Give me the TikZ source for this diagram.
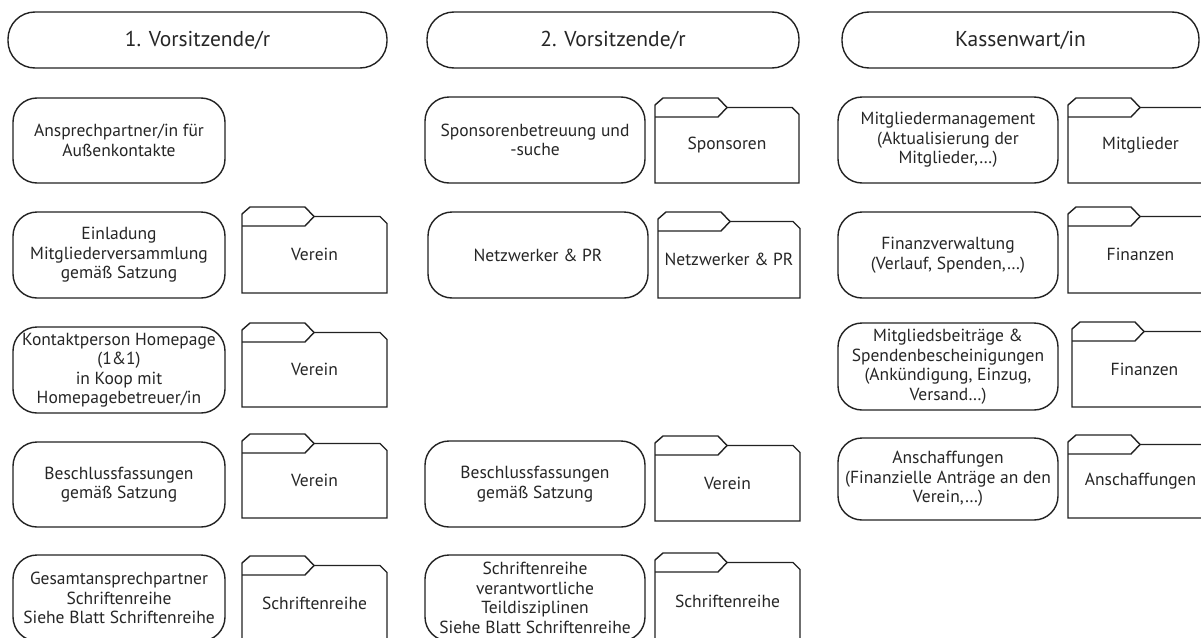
\documentclass[tikz,border=0pt]{standalone}
\usepackage{fontspec}
\setmainfont{PT Sans}
\definecolor{ink}{HTML}{222222}
\definecolor{txt}{HTML}{262626}
\tikzset{
  head/.style={draw=ink, line width=1.4pt, rounded corners=27pt, inner sep=0pt,
    font=\fontsize{21.5}{25}\selectfont, text=txt},
  rbox/.style={draw=ink, line width=1.4pt, rounded corners=24pt, inner sep=0pt,
    align=center, font=\fontsize{17.5}{19.5}\selectfont, text=txt},
  fold/.style={draw=ink, line width=1.4pt, line join=miter},
  ftext/.style={inner sep=0pt, align=center, font=\fontsize{17.5}{19.5}\selectfont, text=txt}
}
\newcommand\headbox[6]{% name x0 x1 y0 y1 text
  \node[head, minimum width={#3-#2}, minimum height={#5-#4}] (#1) at ({(#2+#3)/2},{(#4+#5)/2}) {#6};}
\newcommand\rbx[6]{% name x0 x1 y0 y1 text
  \node[rbox, minimum width={#3-#2}, minimum height={#5-#4}] (#1) at ({(#2+#3)/2},{(#4+#5)/2}) {#6};}
\newcommand\folderbox[6]{% name x0 x1 yt yb text
  \draw[fold] (#2,#5) -- (#2,#4+7) -- (#2+8,#4) -- (#2+63,#4) -- (#2+72,#4+9.5)
     -- (#3-7,#4+9.5) -- (#3,#4+16.5) -- (#3,#5) -- cycle;
  \draw[fold] (#2,#4+19) -- (#2+63,#4+19) -- (#2+72,#4+9.5);
  \node[ftext] (#1) at ({(#2+#3)/2},{(#4+9.5+#5)/2}) {#6};}
\begin{document}
\begin{tikzpicture}[x=1pt,y=-1pt]
\useasboundingbox (0,0) rectangle (1201,637);
\clip (0,0) rectangle (1201,637);
\fill[white] (0,0) rectangle (1201,637);
% headers
\headbox{h1}{8}{387}{12}{68}{1. Vorsitzende/r}
\headbox{h2}{427}{799}{12}{68}{2. Vorsitzende/r}
\headbox{h3}{842}{1199}{12}{68}{Kassenwart/in}
% column 1
\rbx{a1}{13}{225}{98}{183}{Ansprechpartner/in für\\Außenkontakte}
\rbx{a2}{13}{225}{212}{298}{Einladung\\Mitgliederversammlung\\gemäß Satzung}
\folderbox{fa2}{242}{387}{207}{293}{Verein}
\rbx{a3}{13}{225}{327}{413}{Kontaktperson Homepage\\(1\&1)\\in Koop mit\\Homepagebetreuer/in}
\folderbox{fa3}{242}{387}{323}{407}{Verein}
\rbx{a4}{13}{225}{442}{527}{Beschlussfassungen\\gemäß Satzung}
\folderbox{fa4}{242}{387}{434}{518}{Verein}
\rbx{a5}{13}{225}{555}{641}{Gesamtansprechpartner\\Schriftenreihe\\Siehe Blatt Schriftenreihe}
\folderbox{fa5}{242}{387}{556}{641}{Schriftenreihe}
% column 2
\rbx{b1}{425}{645}{97}{183}{Sponsorenbetreuung und\\-suche}
\folderbox{fb1}{655}{799}{98}{183}{Sponsoren}
\rbx{b2}{428}{648}{212}{298}{Netzwerker \& PR}
\folderbox{fb2}{658}{800}{212}{298}{Netzwerker \& PR}
\rbx{b4}{425}{645}{441}{527}{Beschlussfassungen\\gemäß Satzung}
\folderbox{fb4}{655}{800}{436}{521}{Verein}
\rbx{b5}{425}{645}{555}{641}{Schriftenreihe\\verantwortliche\\Teildisziplinen\\Siehe Blatt Schriftenreihe}
\folderbox{fb5}{655}{800}{553}{641}{Schriftenreihe}
% column 3
\rbx{c1}{838}{1058}{97}{183}{Mitgliedermanagement\\(Aktualisierung der\\Mitglieder,\dots)}
\folderbox{fc1}{1068}{1213}{98}{183}{Mitglieder}
\rbx{c2}{838}{1058}{212}{298}{Finanzverwaltung\\(Verlauf, Spenden,\dots)}
\folderbox{fc2}{1068}{1213}{207}{293}{Finanzen}
\rbx{c3}{838}{1058}{323}{410}{Mitgliedsbeiträge \&\\Spendenbescheinigungen\\(Ankündigung, Einzug,\\Versand\dots)}
\folderbox{fc3}{1072}{1217}{322}{407}{Finanzen}
\rbx{c4}{838}{1058}{438}{520}{Anschaffungen\\(Finanzielle Anträge an den\\Verein,\dots)}
\folderbox{fc4}{1068}{1213}{435}{518}{Anschaffungen}
\end{tikzpicture}
\end{document}
